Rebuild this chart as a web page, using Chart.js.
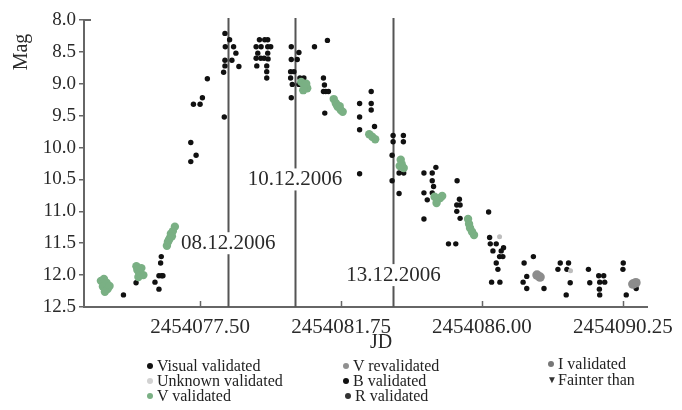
<!DOCTYPE html>
<html>
<head>
<meta charset="utf-8">
<script src="https://cdn.jsdelivr.net/npm/chart.js@4.4.0/dist/chart.umd.min.js"></script>
<style>
  body { margin: 0; background: #fff; }
  #wrap { position: relative; width: 682px; height: 410px; }
  canvas { position: absolute; left: 0; top: 0; }
  .lg { position: absolute; font: 16px 'Liberation Serif', 'Times New Roman', serif; color: #222; line-height: 15px; white-space: nowrap; }
  .lg i { position: absolute; left: -10px; top: 5px; width: 6px; height: 6px; border-radius: 50%; }
  .lg b.tri { position: absolute; left: -11px; top: 0; font-size: 10px; font-weight: normal; color: #333; }
</style>
</head>
<body>
<div id="wrap">
  <canvas id="lc" width="682" height="410"></canvas>
  <div class="lg" style="left:157px;top:358px"><i style="background:#111"></i>Visual validated</div>
  <div class="lg" style="left:157px;top:373px"><i style="background:#d2d2d2"></i>Unknown validated</div>
  <div class="lg" style="left:157px;top:388px"><i style="background:#7ab084"></i>V validated</div>
  <div class="lg" style="left:353px;top:358px"><i style="background:#909090"></i>V revalidated</div>
  <div class="lg" style="left:353px;top:373px"><i style="background:#111"></i>B validated</div>
  <div class="lg" style="left:355px;top:388px"><i style="background:#333"></i>R validated</div>
  <div class="lg" style="left:558px;top:356px"><i style="background:#777"></i>I validated</div>
  <div class="lg" style="left:558px;top:372px"><b class="tri">&#9660;</b>Fainter than</div>
</div>
<script>
// visual validated (black dots)
const visualJD = [
  2454075.19, 2454075.57, 2454076.14, 2454076.26, 2454076.26, 2454076.34, 2454076.38, 2454076.31, 2454076.33,
  2454077.22, 2454077.22, 2454077.38, 2454077.30, 2454077.50, 2454077.57, 2454077.72,
  2454078.25, 2454078.39, 2454078.26, 2454078.51, 2454078.58, 2454078.25, 2454078.46, 2454078.25, 2454078.67, 2454078.21, 2454078.23,
  2454079.29, 2454079.45, 2454079.54, 2454079.19, 2454079.34, 2454079.54, 2454079.63, 2454079.24, 2454079.54,
  2454079.19, 2454079.33, 2454079.43, 2454079.55, 2454079.21, 2454079.51, 2454079.51, 2454079.51,
  2454080.25, 2454080.48, 2454080.25, 2454080.43, 2454080.23, 2454080.33, 2454080.23, 2454080.51, 2454080.63,
  2454080.28, 2454080.48, 2454080.25, 2454080.95, 2454081.34, 2454081.22, 2454081.25, 2454081.22, 2454081.29,
  2454081.37, 2454081.26, 2454082.31, 2454082.66, 2454082.66, 2454082.66, 2454082.31, 2454082.31, 2454082.76, 2454082.31,
  2454083.32, 2454083.63, 2454083.32, 2454083.63, 2454083.29, 2454083.50, 2454083.64, 2454083.29, 2454083.50,
  2454084.25, 2454084.50, 2454084.61, 2454084.50, 2454084.54, 2454084.25, 2454084.50, 2454084.35, 2454084.25,
  2454085.25, 2454085.32, 2454085.24, 2454085.34, 2454085.24, 2454085.34, 2454084.99, 2454085.21,
  2454086.20, 2454086.23, 2454086.25, 2454086.43, 2454086.65, 2454086.33, 2454086.58, 2454086.53, 2454086.63,
  2454086.43, 2454086.48, 2454086.29, 2454086.54,
  2454087.27, 2454087.55, 2454087.35, 2454087.24, 2454087.35, 2454087.87, 2454088.36, 2454088.61, 2454088.29,
  2454088.56, 2454088.66, 2454088.54, 2454089.21, 2454089.25, 2454089.52, 2454089.67, 2454089.55, 2454089.70,
  2454089.54, 2454089.55, 2454090.26, 2454090.25, 2454090.35, 2454090.65
];
const visualMag = [
  12.31, 12.12, 12.11, 12.22, 12.01, 12.01, 12.01, 11.81, 11.71,
  9.92, 10.22, 10.12, 9.32, 9.32, 9.22, 8.92,
  8.21, 8.31, 8.42, 8.42, 8.52, 8.63, 8.63, 8.72, 8.73, 8.82, 9.52,
  8.31, 8.31, 8.31, 8.42, 8.42, 8.42, 8.42, 8.52, 8.52,
  8.60, 8.60, 8.60, 8.61, 8.72, 8.72, 8.81, 8.91,
  8.42, 8.51, 8.62, 8.62, 8.81, 8.81, 8.91, 8.91, 8.91,
  9.01, 9.01, 9.22, 8.42, 8.32, 8.91, 9.02, 9.12, 9.12,
  9.12, 9.46, 9.31, 9.31, 9.12, 9.41, 9.52, 9.72, 9.67, 10.41,
  9.81, 9.81, 9.91, 9.91, 10.12, 10.40, 10.40, 10.52, 10.72,
  10.40, 10.40, 10.31, 10.52, 10.61, 10.71, 10.71, 10.82, 11.12,
  10.52, 10.81, 10.90, 10.90, 11.00, 11.11, 11.51, 11.51,
  11.01, 11.41, 11.51, 11.51, 11.57, 11.62, 11.62, 11.71, 11.71,
  11.81, 11.91, 12.11, 12.11,
  11.81, 11.71, 12.02, 12.11, 12.21, 12.21, 11.81, 11.81, 11.91,
  11.91, 12.12, 12.31, 11.91, 12.12, 12.01, 12.01, 12.11, 12.11,
  12.22, 12.31, 11.81, 11.91, 12.31, 12.21
];

// V validated (green clusters)
const vJD = [
  2454074.51, 2454074.60, 2454074.68, 2454074.57, 2454074.71, 2454074.77, 2454074.63,
  2454075.58, 2454075.61, 2454075.67, 2454075.73, 2454075.79, 2454075.64,
  2454076.50, 2454076.53, 2454076.59, 2454076.62, 2454076.68, 2454076.74, 2454076.56, 2454076.65,
  2454080.55, 2454080.64, 2454080.73, 2454080.61, 2454080.70,
  2454081.53, 2454081.59, 2454081.65, 2454081.74, 2454081.80, 2454081.62, 2454081.71,
  2454082.60, 2454082.69, 2454082.78,
  2454083.55, 2454083.58, 2454083.64, 2454083.52,
  2454084.57, 2454084.65, 2454084.74, 2454084.63, 2454084.80,
  2454085.58, 2454085.61, 2454085.64, 2454085.70, 2454085.76
];
const vMag = [
  12.09, 12.06, 12.12, 12.18, 12.22, 12.17, 12.26,
  11.86, 11.92, 11.97, 11.89, 12.00, 12.03,
  11.54, 11.48, 11.42, 11.35, 11.31, 11.24, 11.45, 11.39,
  8.97, 9.02, 9.07, 9.10, 9.00,
  9.24, 9.30, 9.36, 9.41, 9.44, 9.33, 9.35,
  9.79, 9.83, 9.87,
  10.19, 10.26, 10.32, 10.29,
  10.77, 10.82, 10.79, 10.87, 10.76,
  11.12, 11.20, 11.26, 11.32, 11.37
];

// V revalidated (grey)
const vrevJD = [2454087.66, 2454087.75, 2454090.64, 2454090.55];
const vrevMag = [12.00, 12.03, 12.12, 12.14];

// unknown validated (light grey)
const unkJD = [2454086.53, 2454088.67];
const unkMag = [11.40, 11.93];

const xTicks = [2454077.50, 2454081.75, 2454086.00, 2454090.25];
const markJD = [2454078.35, 2454080.36, 2454083.33];
const markText = ['08.12.2006', '10.12.2006', '13.12.2006'];
const markTextMag = [11.5, 10.5, 12.0];

function pts(xs, ys) {
  return xs.map((x, i) => ({x: x, y: ys[i]}));
}

const serif = "'Liberation Serif', 'Times New Roman', serif";

const decor = {
  id: 'decor',
  beforeDatasetsDraw(chart) {
    const ctx = chart.ctx, xs = chart.scales.x, ys = chart.scales.y, a = chart.chartArea;
    ctx.save();
    ctx.strokeStyle = '#555';
    ctx.lineWidth = 2;
    markJD.forEach(v => {
      const px = Math.round(xs.getPixelForValue(v)) + 0.5;
      ctx.beginPath();
      ctx.moveTo(px, a.top - 2);
      ctx.lineTo(px, a.bottom);
      ctx.stroke();
    });
    // inward x ticks
    ctx.strokeStyle = '#666';
    ctx.lineWidth = 1.5;
    xTicks.forEach(v => {
      const px = Math.round(xs.getPixelForValue(v)) + 0.5;
      ctx.beginPath();
      ctx.moveTo(px, a.bottom);
      ctx.lineTo(px, a.bottom - 6);
      ctx.stroke();
    });
    // cap at top of y axis
    ctx.lineWidth = 2;
    ctx.beginPath();
    ctx.moveTo(a.left - 1, a.top);
    ctx.lineTo(a.left + 7, a.top);
    ctx.stroke();
    ctx.restore();
  },
  afterDatasetsDraw(chart) {
    const ctx = chart.ctx, xs = chart.scales.x, ys = chart.scales.y;
    ctx.save();
    ctx.font = '21px ' + serif;
    ctx.textAlign = 'center';
    ctx.textBaseline = 'middle';
    markJD.forEach((v, i) => {
      const px = xs.getPixelForValue(v);
      const py = ys.getPixelForValue(markTextMag[i]);
      const w = ctx.measureText(markText[i]).width;
      ctx.fillStyle = '#fff';
      ctx.fillRect(px - w / 2 - 1, py - 11, w + 2, 22);
      ctx.fillStyle = '#2a2a2a';
      ctx.fillText(markText[i], px, py);
    });
    // axis titles
    ctx.font = '20px ' + serif;
    ctx.fillText('JD', 381, 343);
    ctx.translate(22, 52);
    ctx.rotate(-Math.PI / 2);
    ctx.fillText('Mag', 0, 0);
    ctx.restore();
  }
};

new Chart(document.getElementById('lc'), {
  type: 'scatter',
  data: {
    datasets: [
      {label: 'V revalidated', data: pts(vrevJD, vrevMag), backgroundColor: '#8c8c8c', borderWidth: 0, pointRadius: 4.8, order: 0},
      {label: 'Unknown validated', data: pts(unkJD, unkMag), backgroundColor: '#bdbdbd', borderWidth: 0, pointRadius: 2.5, order: 1},
      {label: 'V validated', data: pts(vJD, vMag), backgroundColor: '#7ab084', borderWidth: 0, pointRadius: 4.2, order: 2},
      {label: 'Visual validated', data: pts(visualJD, visualMag), backgroundColor: '#111', borderWidth: 0, pointRadius: 2.7, order: 3}
    ]
  },
  options: {
    responsive: false,
    animation: false,
    events: [],
    layout: {padding: {left: 0, right: 27, top: 20, bottom: 0}},
    plugins: {legend: {display: false}, tooltip: {enabled: false}},
    scales: {
      x: {
        type: 'linear',
        min: 2454074,
        max: 2454091,
        afterFit: s => { s.height = 103; },
        afterBuildTicks: s => { s.ticks = xTicks.map(v => ({value: v})); },
        grid: {display: false, drawTicks: false},
        border: {display: true, color: '#666', width: 2},
        ticks: {
          padding: 8,
          color: '#2a2a2a',
          font: {family: serif, size: 21},
          maxRotation: 0,
          autoSkip: false,
          callback: v => v.toFixed(2)
        }
      },
      y: {
        reverse: true,
        min: 8,
        max: 12.5,
        afterFit: s => { s.width = 84; },
        grid: {drawOnChartArea: false, drawTicks: true, tickLength: 5, color: '#666', lineWidth: 1.5},
        border: {display: true, color: '#666', width: 2},
        ticks: {
          stepSize: 0.5,
          padding: 3,
          color: '#2a2a2a',
          font: {family: serif, size: 19},
          callback: v => v.toFixed(1)
        }
      }
    }
  },
  plugins: [decor]
});
</script>
</body>
</html>
